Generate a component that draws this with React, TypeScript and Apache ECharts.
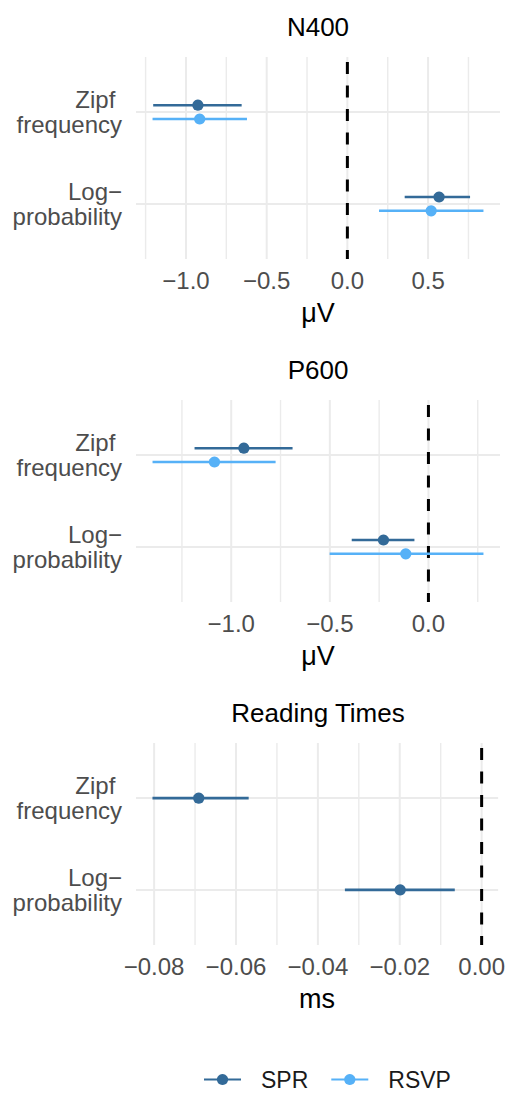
import React, { useEffect, useRef } from 'react';
import * as echarts from 'echarts';

// ---------- data ----------
const categories = ['Zipf\u00a0\nfrequency', 'Log\u2212\nprobability'];
const groupNames = ['SPR', 'RSVP'];
const groupColors = ['#336a98', '#56b1f7'];

// N400 (µV)
const n400SprEst = [-0.926, 0.568];
const n400SprLo = [-1.203, 0.355];
const n400SprHi = [-0.655, 0.760];
const n400RsvpEst = [-0.915, 0.519];
const n400RsvpLo = [-1.207, 0.196];
const n400RsvpHi = [-0.622, 0.843];
const n400Ticks = [-1.0, -0.5, 0.0, 0.5];
const n400MinorTicks = [-1.25, -0.75, -0.25, 0.25, 0.75];

// P600 (µV)
const p600SprEst = [-0.936, -0.228];
const p600SprLo = [-1.186, -0.389];
const p600SprHi = [-0.689, -0.071];
const p600RsvpEst = [-1.085, -0.115];
const p600RsvpLo = [-1.399, -0.501];
const p600RsvpHi = [-0.775, 0.279];
const p600Ticks = [-1.0, -0.5, 0.0];
const p600MinorTicks = [-1.25, -0.75, -0.25, 0.25];

// Reading times (ms), SPR only
const rtSprEst = [-0.0691, -0.0199];
const rtSprLo = [-0.0804, -0.0334];
const rtSprHi = [-0.0569, -0.00656];
const rtTicks = [-0.08, -0.06, -0.04, -0.02, 0.0];
const rtMinorTicks = [-0.07, -0.05, -0.03, -0.01];

const panelTitles = ['N400', 'P600', 'Reading Times'];
const panelUnits = ['μV', 'μV', 'ms'];
const panelDecimals = [1, 1, 2];
const referenceLine = 0;

// ---------- layout / style ----------
const FONT = "'Liberation Sans', Arial, Helvetica, sans-serif";
const GRID_TOPS = [57, 400, 743];
const GRID_H = 202;
const GRID_LEFT = 136;
const GRID_RIGHT = 8;
const DODGE = 0.075;

type Group = { name: string; est: number[]; lo: number[]; hi: number[] };
const panels: { groups: Group[]; ticks: number[]; minor: number[] }[] = [
  {
    groups: [
      { name: 'SPR', est: n400SprEst, lo: n400SprLo, hi: n400SprHi },
      { name: 'RSVP', est: n400RsvpEst, lo: n400RsvpLo, hi: n400RsvpHi },
    ],
    ticks: n400Ticks,
    minor: n400MinorTicks,
  },
  {
    groups: [
      { name: 'SPR', est: p600SprEst, lo: p600SprLo, hi: p600SprHi },
      { name: 'RSVP', est: p600RsvpEst, lo: p600RsvpLo, hi: p600RsvpHi },
    ],
    ticks: p600Ticks,
    minor: p600MinorTicks,
  },
  {
    groups: [{ name: 'SPR', est: rtSprEst, lo: rtSprLo, hi: rtSprHi }],
    ticks: rtTicks,
    minor: rtMinorTicks,
  },
];

function fmt(v: number, d: number) {
  const s = Math.abs(v).toFixed(d);
  return v < -1e-12 ? '\u2212' + s : s;
}

function buildOption() {
  const grid: any[] = [];
  const xAxis: any[] = [];
  const yAxis: any[] = [];
  const series: any[] = [];
  const graphic: any[] = [];

  // legend dummy series first so legend icons come from them
  groupNames.forEach((n, i) => {
    series.push({
      type: 'line',
      name: n,
      data: [],
      xAxisIndex: 0,
      yAxisIndex: 0,
      color: groupColors[i],
      lineStyle: { width: 2.5, color: groupColors[i] },
      itemStyle: { color: groupColors[i] },
      symbol: 'circle',
    });
  });

  panels.forEach((p, pi) => {
    let lo = referenceLine;
    let hi = referenceLine;
    p.groups.forEach((g) => {
      g.lo.forEach((v) => (lo = Math.min(lo, v)));
      g.hi.forEach((v) => (hi = Math.max(hi, v)));
    });
    const pad = (hi - lo) * 0.05;
    const xmin = lo - pad;
    const xmax = hi + pad;

    grid.push({ left: GRID_LEFT, right: GRID_RIGHT, top: GRID_TOPS[pi], height: GRID_H, containLabel: false });
    xAxis.push({
      type: 'value',
      gridIndex: pi,
      min: xmin,
      max: xmax,
      axisLine: { show: false },
      axisTick: { show: false },
      splitLine: { show: false },
      axisLabel: {
        customValues: p.ticks,
        formatter: (v: number) => fmt(v, panelDecimals[pi]),
        fontSize: 24,
        color: '#4d4d4d',
        fontFamily: FONT,
        margin: 9,
      },
      name: panelUnits[pi],
      nameLocation: 'middle',
      nameGap: 40,
      nameTextStyle: { fontSize: 27, color: '#000', fontFamily: FONT },
    });
    yAxis.push({
      type: 'value',
      gridIndex: pi,
      min: 0.4,
      max: 2.6,
      inverse: true,
      axisLine: { show: false },
      axisTick: { show: false },
      splitLine: { show: false },
      axisLabel: {
        customValues: [1, 2],
        formatter: (v: number) => categories[Math.round(v) - 1] || '',
        fontSize: 24,
        lineHeight: 25,
        color: '#4d4d4d',
        fontFamily: FONT,
        margin: 14,
        align: 'right',
      },
    });

    // vertical grid lines
    const vData: number[][] = [];
    p.ticks.forEach((t) => vData.push([t, 0]));
    p.minor.forEach((t) => vData.push([t, 1]));
    series.push({
      type: 'custom',
      name: 'vgrid' + pi,
      xAxisIndex: pi,
      yAxisIndex: pi,
      silent: true,
      z: 1,
      data: vData,
      encode: { x: 0 },
      renderItem: (params: any, api: any) => {
        const cs = params.coordSys;
        const px = api.coord([api.value(0), 1])[0];
        const major = api.value(1) === 0;
        return {
          type: 'line',
          shape: { x1: px, y1: cs.y, x2: px, y2: cs.y + cs.height },
          style: { stroke: '#ebebeb', lineWidth: major ? 2 : 1.4 },
        };
      },
    });
    // horizontal grid lines at categories
    series.push({
      type: 'custom',
      name: 'hgrid' + pi,
      xAxisIndex: pi,
      yAxisIndex: pi,
      silent: true,
      z: 1,
      data: categories.map((_, i) => [i + 1]),
      encode: { y: 0 },
      renderItem: (params: any, api: any) => {
        const cs = params.coordSys;
        const py = api.coord([xmin, api.value(0)])[1];
        return {
          type: 'line',
          shape: { x1: cs.x, y1: py, x2: cs.x + cs.width, y2: py },
          style: { stroke: '#ebebeb', lineWidth: 2 },
        };
      },
    });
    // reference dashed line at 0
    series.push({
      type: 'custom',
      name: 'ref' + pi,
      xAxisIndex: pi,
      yAxisIndex: pi,
      silent: true,
      z: 2,
      data: [[referenceLine]],
      encode: { x: 0 },
      renderItem: (params: any, api: any) => {
        const cs = params.coordSys;
        const px = api.coord([api.value(0), 1])[0];
        return {
          type: 'line',
          shape: { x1: px, y1: cs.y, x2: px, y2: cs.y + cs.height },
          style: { stroke: '#000', lineWidth: 3, lineDash: [12, 11.5], lineDashOffset: -5 },
        };
      },
    });

    // point ranges
    const ng = p.groups.length;
    p.groups.forEach((g, gi) => {
      const ci = groupNames.indexOf(g.name);
      const color = groupColors[ci];
      const off = ng > 1 ? (gi - (ng - 1) / 2) * 2 * DODGE : 0;
      const data = g.est.map((e, k) => [e, g.lo[k], g.hi[k], k + 1 + off]);
      series.push({
        type: 'custom',
        name: g.name,
        xAxisIndex: pi,
        yAxisIndex: pi,
        z: 3,
        data,
        encode: { x: [0, 1, 2], y: 3 },
        renderItem: (params: any, api: any) => {
          const y = api.value(3);
          const pt = api.coord([api.value(0), y]);
          const a = api.coord([api.value(1), y]);
          const b = api.coord([api.value(2), y]);
          return {
            type: 'group',
            children: [
              {
                type: 'line',
                shape: { x1: a[0], y1: a[1], x2: b[0], y2: b[1] },
                style: { stroke: color, lineWidth: 2.6 },
              },
              {
                type: 'circle',
                shape: { cx: pt[0], cy: pt[1], r: 5.6 },
                style: { fill: color },
              },
            ],
          };
        },
      });
    });

    graphic.push({
      type: 'text',
      x: GRID_LEFT + (508 - GRID_LEFT - GRID_RIGHT) / 2,
      y: GRID_TOPS[pi] - 30,
      style: {
        text: panelTitles[pi],
        fontSize: 26,
        fontFamily: FONT,
        fill: '#000',
        align: 'center',
        verticalAlign: 'middle',
      },
    });
  });

  return {
    animation: false,
    backgroundColor: '#fff',
    grid,
    xAxis,
    yAxis,
    series,
    graphic,
    legend: {
      data: groupNames,
      left: 203,
      top: 1068,
      padding: 0,
      itemWidth: 37,
      itemHeight: 14,
      itemGap: 22,
      selectedMode: false,
      textStyle: { fontSize: 23, color: '#1a1a1a', fontFamily: FONT, padding: [0, 0, 0, 15] },
    },
  };
}

export default function App() {
  const ref = useRef<HTMLDivElement>(null);
  useEffect(() => {
    document.body.style.margin = '0';
    if (!ref.current) return;
    const chart = echarts.init(ref.current, undefined, { renderer: 'svg' });
    chart.setOption(buildOption() as any);
    return () => chart.dispose();
  }, []);
  return <div ref={ref} style={{ width: 508, height: 1095 }} />;
}
